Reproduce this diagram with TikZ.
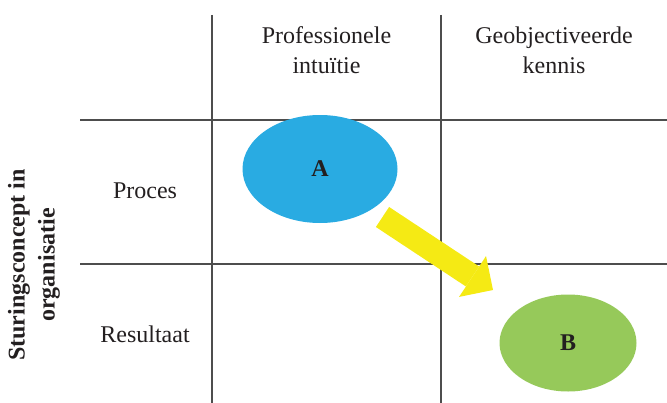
\documentclass[tikz,border=0pt]{standalone}
\usepackage{fontspec}
\setmainfont{Liberation Serif}
\usetikzlibrary{shapes.geometric,arrows.meta}
\definecolor{ink}{HTML}{231F20}
\definecolor{gridline}{HTML}{4D4D4D}
\definecolor{procblue}{HTML}{29ABE2}
\definecolor{resgreen}{HTML}{96C95A}
\definecolor{shiftyellow}{HTML}{F5EA14}
\tikzset{
  label/.style={font=\fontsize{18}{22.5}\selectfont, text=ink, align=center, inner sep=0pt},
  grid/.style={draw=gridline, line width=1.1pt},
  blob/.style={ellipse, inner sep=0pt, font=\fontsize{18}{22.5}\selectfont\bfseries, text=ink}
}
\begin{document}
\begin{tikzpicture}
        [x=0.75pt,y=-0.75pt]
        \useasboundingbox (0,0) rectangle (667,403);

        \foreach \x in {212,441}
        {\draw[grid] (\x,15) -- (\x,403);}
        \foreach \y in {120,264}
        {\draw[grid] (80,\y) -- (667,\y);}

        \node[label] (intuitie) at (326.5,50) {Professionele\\intuïtie};
        \node[label] (kennis) at (554,50) {Geobjectiveerde\\kennis};
        \node[label] (proces) at (145,191) {Proces};
        \node[label] (resultaat) at (145,334) {Resultaat};
        \node[label, rotate=90, font=\fontsize{18}{22.5}\selectfont\bfseries] (sturing) at (34,265)
          {Sturingsconcept in\\organisatie};

        \node[blob, fill=procblue, minimum width=116.25pt, minimum height=81pt] (A) at (320,169) {A};
        \node[blob, fill=resgreen, minimum width=102.75pt, minimum height=72.75pt] (B) at (568,343) {B};

        \coordinate (tail) at (382.5,217);
        \coordinate (tip) at (493,290);
        \draw[shiftyellow, line width=18pt,
          -{Triangle[length=18.4pt, width=36.75pt, line width'=0pt]}] (tail) -- (tip);
      \end{tikzpicture}
\end{document}
